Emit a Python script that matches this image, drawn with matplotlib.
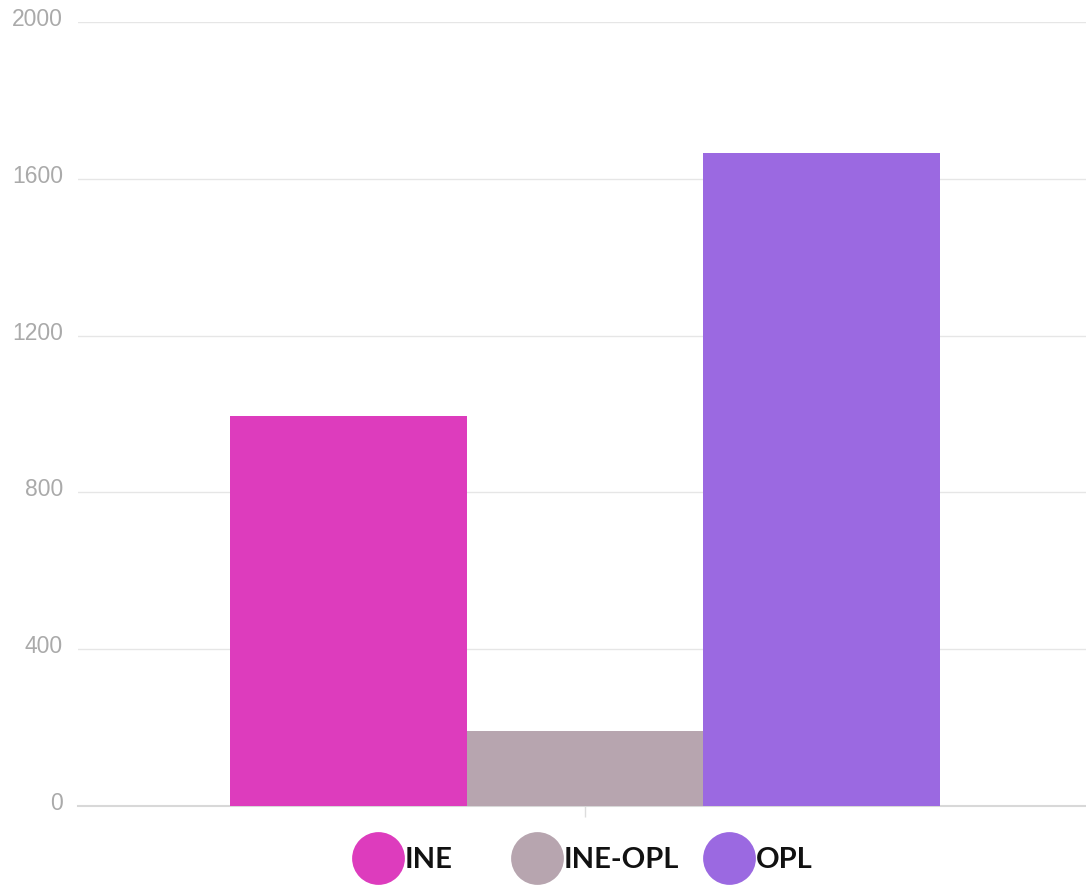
import matplotlib.pyplot as plt
import matplotlib.transforms as mtransforms
from matplotlib.lines import Line2D
import numpy as np

series = ['INE', 'INE-OPL', 'OPL']
values = [995, 191, 1666]
colors = ['#DD3CBD', '#B7A5AF', '#9B69E1']
yticks = [0, 400, 800, 1200, 1600, 2000]

fig = plt.figure(figsize=(10.86, 8.86), dpi=100)
ax = fig.add_axes([0.0718, 0.0903, 0.9282, 0.8849])

width = 0.2345
offsets = (np.arange(len(series)) - 1) * width
for off, val, col in zip(offsets, values, colors):
    ax.bar(off, val, width=width, color=col, edgecolor='none', zorder=3)

ax.set_xlim(-0.503, 0.497)
ax.set_ylim(0, 2000)
ax.set_yticks(yticks)
ax.set_yticklabels([str(t) for t in yticks], fontsize=16.5, color='#aaaaaa',
                   family='Liberation Sans')
ax.tick_params(axis='y', length=0, pad=10.8)
# labels sit a little above their grid lines
shift = mtransforms.ScaledTranslation(0, 5 / 100, fig.dpi_scale_trans)
for lab in ax.get_yticklabels():
    lab.set_transform(lab.get_transform() + shift)
ax.set_xticks([0])
ax.set_xticklabels([''])
ax.tick_params(axis='x', length=8, color='#dddddd', width=1)

ax.yaxis.grid(True, color='#e6e6e6', linewidth=1, zorder=0)
for s in ['top', 'right', 'left']:
    ax.spines[s].set_visible(False)
ax.spines['bottom'].set_color('#d8d8d8')
ax.spines['bottom'].set_linewidth(1.5)

# legend entries placed one by one (uneven gaps in the original)
leg_x = [352, 511, 703]
for name, col, px in zip(series, colors, leg_x):
    h = Line2D([], [], marker='o', linestyle='none', markersize=38,
               markerfacecolor=col, markeredgecolor='none')
    leg = fig.legend([h], [name], loc='center left',
                     bbox_to_anchor=(px / 1086, 1 - 860 / 886), frameon=False,
                     borderpad=0, borderaxespad=0, handletextpad=0.0,
                     handlelength=1.8,
                     prop={'family': 'Lato', 'weight': 'bold', 'size': 21})
    leg.get_texts()[0].set_color('#111111')

plt.savefig('out.png', dpi=100)
